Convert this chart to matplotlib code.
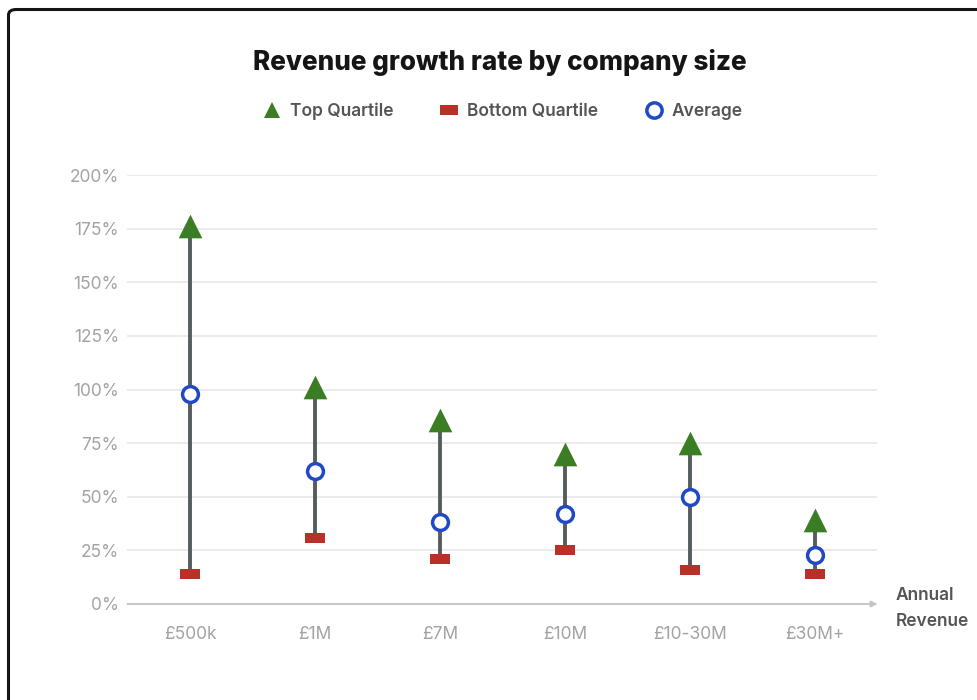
import matplotlib.pyplot as plt
from matplotlib.patches import FancyBboxPatch
from matplotlib.lines import Line2D

categories = ["£500k", "£1M", "£7M", "£10M", "£10-30M", "£30M+"]
top_quartile = [176, 101, 86, 70, 75, 39]
average = [98, 62, 38, 42, 50, 23]
bottom_quartile = [14, 31, 21, 25, 16, 14]
y_ticks = [0, 25, 50, 75, 100, 125, 150, 175, 200]

plt.rcParams['font.family'] = ['Inter', 'DejaVu Sans']

GREEN = "#3a7d24"
RED = "#b83129"
BLUE = "#2148c6"
STEM = "#565d5f"

fig = plt.figure(figsize=(9.78, 7.0), dpi=100)
fig.patch.set_facecolor("white")

# outer card border
border = FancyBboxPatch((8.5 / 978, -0.1), 1.2, 1.1 - 9.5 / 700,
                        boxstyle="round,pad=0,rounding_size=0.008",
                        transform=fig.transFigure, fill=False,
                        edgecolor="#151515", linewidth=2.2)
fig.patches.append(border)

ax = fig.add_axes([127.5 / 978, 1 - 604 / 700, 750 / 978, (604 - 175) / 700])
x = list(range(len(categories)))

for xi, lo, hi in zip(x, bottom_quartile, top_quartile):
    ax.plot([xi, xi], [lo, hi], color=STEM, linewidth=2.8, zorder=3,
            solid_capstyle="butt", clip_on=False)

RECT = [(-1, -0.5), (1, -0.5), (1, 0.5), (-1, 0.5)]
ax.scatter(x, top_quartile, marker="^", s=290, color=GREEN, zorder=5,
           linewidths=0, clip_on=False)
ax.scatter(x, bottom_quartile, marker=RECT, s=190, color=RED, zorder=5,
           linewidths=0, clip_on=False)
ax.scatter(x, average, marker="o", s=130, facecolor="white", edgecolor=BLUE,
           linewidths=2.5, zorder=6, clip_on=False)

ax.set_xlim(-0.5, 5.5)
ax.set_ylim(0, 200)
ax.set_yticks(y_ticks)
ax.set_yticklabels([f"{v}%" for v in y_ticks])
ax.set_xticks(x)
ax.set_xticklabels(categories)
ax.tick_params(axis="both", length=0, labelsize=12.5, colors="#a3a3a3")
ax.tick_params(axis="y", pad=6)
ax.tick_params(axis="x", pad=16)
for s in ax.spines.values():
    s.set_visible(False)
ax.grid(axis="y", color="#e6e6e6", linewidth=1.1)
ax.set_axisbelow(True)

# x-axis line with arrow
ax.annotate("", xy=(1.0, 0), xytext=(0, 0), xycoords="axes fraction",
            arrowprops=dict(arrowstyle="-|>", color="#c4c4c4", lw=1.3,
                            mutation_scale=9, shrinkA=0, shrinkB=0), zorder=2)

fig.text(896 / 978, 1 - 595 / 700, "Annual", fontsize=12.5, color="#555555",
         fontweight="semibold", ha="left", va="center")
fig.text(896 / 978, 1 - 621 / 700, "Revenue", fontsize=12.5, color="#555555",
         fontweight="semibold", ha="left", va="center")

fig.text(499.5 / 978, 1 - 63 / 700, "Revenue growth rate by company size",
         fontsize=18.8, fontweight="heavy", color="#151515", ha="center", va="center")

handles = [
    Line2D([], [], marker="^", color=GREEN, linestyle="none", markersize=12,
           markeredgewidth=0),
    Line2D([], [], marker=RECT, color=RED, linestyle="none", markersize=13,
           markeredgewidth=0),
    Line2D([], [], marker="o", markerfacecolor="white", markeredgecolor=BLUE,
           linestyle="none", markersize=11, markeredgewidth=2.5),
]
leg = fig.legend(handles, ["Top Quartile", "Bottom Quartile", "Average"],
                 loc="center", bbox_to_anchor=(502 / 978, 1 - 111 / 700), ncol=3,
                 frameon=False, fontsize=12.5, handletextpad=0.45,
                 columnspacing=2.6, handlelength=1.2)
for t in leg.get_texts():
    t.set_color("#555555")
    t.set_fontweight("semibold")

fig.savefig("out.png", dpi=100, facecolor="white")
